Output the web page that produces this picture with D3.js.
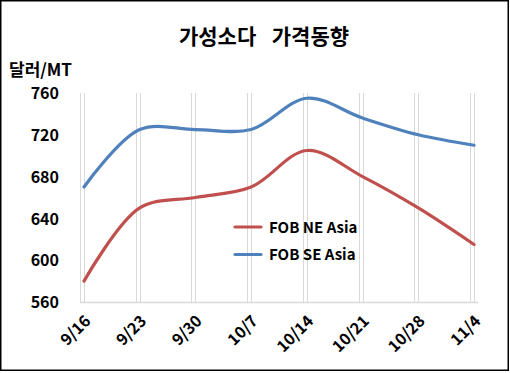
<!DOCTYPE html>
<html>
<head>
<meta charset="utf-8">
<script src="https://cdn.jsdelivr.net/npm/d3@7"></script>
<style>
  body { margin: 0; background: #fff; }
  text { font-family: "Noto Sans CJK KR", "Noto Sans", sans-serif; font-weight: bold; fill: #000; }
</style>
</head>
<body>
<script>
var dates = ["9/16", "9/23", "9/30", "10/7", "10/14", "10/21", "10/28", "11/4"];
var neAsia = [580, 650, 660, 670, 705, 680, 650, 615];
var seAsia = [670, 725, 725, 725, 755, 736, 720, 710];
var yTicks = [560, 600, 640, 680, 720, 760];
var seriesNames = ["FOB NE Asia", "FOB SE Asia"];
var seriesColors = ["#C0504D", "#4F81BD"];

var w = 510, h = 373;
var svg = d3.select("body").append("svg")
    .attr("width", w)
    .attr("height", h);

svg.append("rect")
    .attr("x", 0.75).attr("y", 0.75)
    .attr("width", 507.5).attr("height", 369.5)
    .attr("fill", "#fff")
    .attr("stroke", "#000")
    .attr("stroke-width", 1.5);

// date axis: each week spans 7 daily slots, points sit in the middle of a slot
var x = d3.scaleLinear().domain([0, 50]).range([80, 478]);
var y = d3.scaleLinear().domain([560, 760]).range([302, 93]);
var dayOf = function(i) { return i * 7 + 0.5; };

var grid = svg.append("g");
dates.forEach(function(d, i) {
  [i * 7, dayOf(i)].forEach(function(v) {
    grid.append("line")
      .attr("x1", Math.round(x(v)) + 0.5).attr("x2", Math.round(x(v)) + 0.5)
      .attr("y1", y(760)).attr("y2", y(560))
      .attr("stroke", "#d9d9d9").attr("stroke-width", 1);
  });
});
grid.append("line")
  .attr("x1", x(0)).attr("x2", x(50))
  .attr("y1", Math.round(y(560)) + 0.5).attr("y2", Math.round(y(560)) + 0.5)
  .attr("stroke", "#d9d9d9").attr("stroke-width", 1.5);

var yAxis = d3.axisLeft(y).tickValues(yTicks).tickSize(0).tickPadding(0);
svg.append("g")
    .attr("transform", "translate(59,0)")
    .call(yAxis)
    .call(function(g) { g.select(".domain").remove(); })
    .selectAll("text")
    .attr("dy", "0.36em")
    .style("font-size", "16px")
    .style("font-family", "'Noto Sans CJK KR', sans-serif")
    .style("font-weight", "bold");

var xAxis = d3.axisBottom(x).tickValues(dates.map(function(d, i) { return dayOf(i); }))
    .tickFormat(function(d, i) { return dates[i]; })
    .tickSize(0);
svg.append("g")
    .attr("transform", "translate(0,302)")
    .call(xAxis)
    .call(function(g) { g.select(".domain").remove(); })
    .selectAll("text")
    .style("font-size", "16px")
    .style("font-family", "'Noto Sans CJK KR', sans-serif")
    .style("font-weight", "bold")
    .attr("text-anchor", "end")
    .attr("dy", null)
    .attr("transform", "translate(5,18) rotate(-45)");

var line = d3.line()
    .x(function(d, i) { return x(dayOf(i)); })
    .y(function(d) { return y(d); })
    .curve(d3.curveCatmullRom.alpha(0.5));

[neAsia, seAsia].forEach(function(s, k) {
  svg.append("path")
    .datum(s)
    .attr("d", line)
    .attr("fill", "none")
    .attr("stroke", seriesColors[k])
    .attr("stroke-width", 3.2)
    .attr("stroke-linecap", "round");
});

svg.append("text")
    .attr("x", 264).attr("y", 44)
    .attr("text-anchor", "middle")
    .attr("xml:space", "preserve")
    .style("white-space", "pre")
    .style("word-spacing", "3px")
    .style("font-size", "21px")
    .text("가성소다  가격동향");

svg.append("text")
    .attr("x", 9).attr("y", 76)
    .style("font-size", "17px")
    .text("달러/MT");

var legend = svg.append("g");
seriesNames.forEach(function(n, k) {
  var ly = 227 + k * 27.5;
  legend.append("line")
    .attr("x1", 235).attr("x2", 261)
    .attr("y1", ly).attr("y2", ly)
    .attr("stroke", seriesColors[k])
    .attr("stroke-width", 3.2)
    .attr("stroke-linecap", "round");
  legend.append("text")
    .attr("x", 269).attr("y", ly + 5.5)
    .style("font-size", "15px")
    .text(n);
});
</script>
</body>
</html>
